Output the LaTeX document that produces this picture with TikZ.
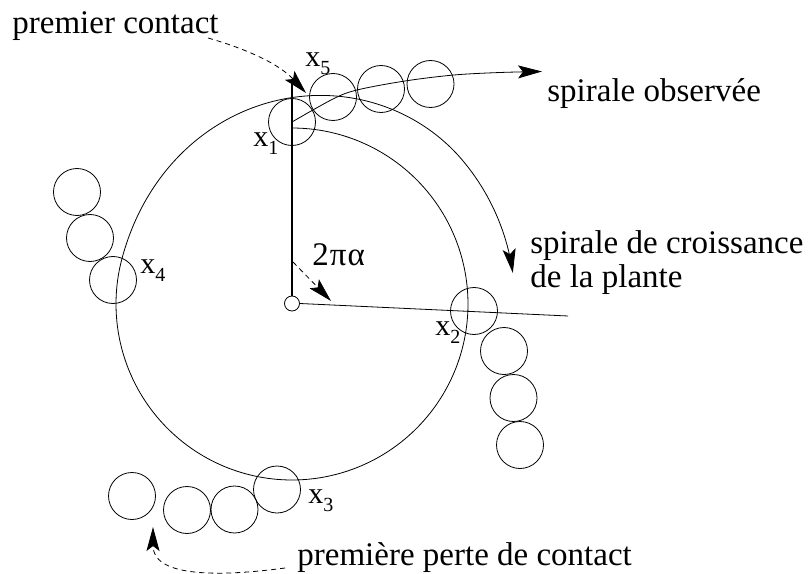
\documentclass[tikz,border=0pt]{standalone}
\usepackage{fontspec}
\setmainfont{Liberation Serif}
\usetikzlibrary{arrows.meta}
\newcommand{\xlab}[1]{x\raisebox{-8bp}{\fontsize{20bp}{20bp}\selectfont #1}}
\begin{document}
\begin{tikzpicture}[x=1bp,y=-1bp,
  line width=0.8bp,
  declare function={tt(\t)=min(max((\t-285)/125,0),1);
                    rr(\t)=176+47*(3*tt(\t)^2-2*tt(\t)^3);},
  ball/.style={circle,draw,minimum size=47bp,inner sep=0pt},
  txt/.style={anchor=base west,inner sep=0pt,font=\fontsize{33bp}{34bp}\selectfont},
  lab/.style={anchor=base west,inner sep=0pt,font=\fontsize{30bp}{30bp}\selectfont},
  big/.style={-{Stealth[length=24bp,width=13bp,inset=5bp]}},
  dsh/.style={dash pattern=on 5bp off 4bp}]
\useasboundingbox (0,0) rectangle (808,574);
% center and axes
\node[circle,draw,minimum size=15bp,inner sep=0pt] (c) at (292,303.5) {};
\coordinate (top) at (292,82);
\coordinate (rend) at (568,316);
\draw[line width=1.4bp] (c.north) -- (top);
\draw (c.east) -- (rend);
% growth spiral
\draw[big] plot[domain=0:442,samples=300] ({292+rr(\x)*sin(\x)},{304-rr(\x)*cos(\x)});
% observed spiral
\draw[big] plot[smooth,tension=0.55] coordinates {
 (292,122) (333,99) (357,90) (405,81) (454,75) (500,72.5) (542,71.5)};
% balls
\node[ball] (b1) at (292,122) {};
\node[ball] (b5a) at (333,97) {};
\node[ball] (b5b) at (381,89) {};
\node[ball] (b5c) at (430.5,84) {};
\node[ball] (b2) at (474,311) {};
\node[ball] (b2a) at (504,351) {};
\node[ball] (b2b) at (513.5,398) {};
\node[ball] (b2c) at (520,445) {};
\node[ball] (b3) at (277,489.5) {};
\node[ball] (b3a) at (234.5,509.5) {};
\node[ball] (b3b) at (187,510) {};
\node[ball] (b3c) at (132,496) {};
\node[ball] (b4) at (113,280) {};
\node[ball] (b4a) at (90,238) {};
\node[ball] (b4b) at (77,192) {};
% labels
\node[lab] (l1) at (253,147) {\xlab{1}};
\node[lab] (l2) at (435,335) {\xlab{2}};
\node[lab] (l3) at (308,503) {\xlab{3}};
\node[lab] (l4) at (140,273) {\xlab{4}};
\node[lab] (l5) at (305,67) {\xlab{5}};
% texts
\node[txt] (pc) at (12,34) {premier contact};
\node[txt] (so) at (547,102) {spirale observée};
\node[txt] (sc) at (530,253) {spirale de croissance};
\node[txt] (dp) at (530,287) {de la plante};
\node[txt] (ang) at (312,265) {2\kern1bp π\kern1bp α};
\node[txt] (pp) at (297,565) {première perte de contact};
% dashed arrows
\coordinate (pcs) at (208,38);
\coordinate (pct) at (306,93);
\draw[dsh,big] (pcs) .. controls (250,50) and (280,65) .. (pct);
\coordinate (as) at (293,262);
\coordinate (at) at (331,301);
\draw[dsh,big] (as) -- (at);
\coordinate (pps) at (285,568);
\coordinate (ppt) at (153,527);
\draw[dsh,big] (pps) .. controls (210,578) and (153,575) .. (ppt);
\end{tikzpicture}
\end{document}
